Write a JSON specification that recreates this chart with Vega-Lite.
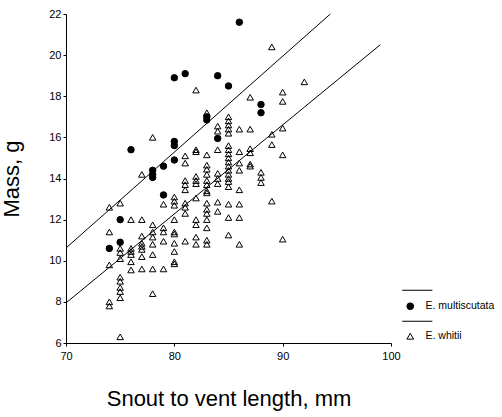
{
  "$schema": "https://vega.github.io/schema/vega-lite/v6.json",
  "width": 325,
  "height": 329,
  "autosize": {"type": "none"},
  "padding": {"left": 66, "top": 14, "right": 111, "bottom": 74},
  "background": "white",
  "config": {
    "view": {"stroke": null},
    "font": "Liberation Sans",
    "axis": {
      "domainColor": "black", "domainWidth": 1, "tickColor": "black", "tickSize": 3, "tickWidth": 1,
      "labelColor": "black", "titleColor": "black", "labelFont": "Liberation Sans", "titleFont": "Liberation Sans",
      "labelFontSize": 11, "titleFontSize": 22, "titleFontWeight": "normal", "grid": false,
      "labelFlush": false, "labelOverlap": false
    },
    "legend": {
      "orient": "none", "legendX": 339, "legendY": 271, "title": null,
      "labelFont": "Liberation Sans", "labelFontSize": 10.5, "labelColor": "black",
      "symbolStrokeColor": "black", "symbolStrokeWidth": 1, "symbolSize": 45,
      "labelOffset": 10, "rowPadding": 4
    }
  },
  "datasets": {
    "pts": [
      {"species": "E. multiscutata", "svl": 74, "mass": 10.6},
      {"species": "E. multiscutata", "svl": 75, "mass": 12.0},
      {"species": "E. multiscutata", "svl": 75, "mass": 10.9},
      {"species": "E. multiscutata", "svl": 76, "mass": 15.4},
      {"species": "E. multiscutata", "svl": 78, "mass": 14.4},
      {"species": "E. multiscutata", "svl": 78, "mass": 14.2},
      {"species": "E. multiscutata", "svl": 78, "mass": 14.05},
      {"species": "E. multiscutata", "svl": 79, "mass": 14.6},
      {"species": "E. multiscutata", "svl": 79, "mass": 13.2},
      {"species": "E. multiscutata", "svl": 80, "mass": 18.9},
      {"species": "E. multiscutata", "svl": 80, "mass": 15.8},
      {"species": "E. multiscutata", "svl": 80, "mass": 15.6},
      {"species": "E. multiscutata", "svl": 80, "mass": 14.9},
      {"species": "E. multiscutata", "svl": 81, "mass": 19.1},
      {"species": "E. multiscutata", "svl": 83, "mass": 17.0},
      {"species": "E. multiscutata", "svl": 83, "mass": 16.85},
      {"species": "E. multiscutata", "svl": 84, "mass": 19.0},
      {"species": "E. multiscutata", "svl": 84, "mass": 15.95},
      {"species": "E. multiscutata", "svl": 85, "mass": 18.5},
      {"species": "E. multiscutata", "svl": 86, "mass": 21.6},
      {"species": "E. multiscutata", "svl": 88, "mass": 17.6},
      {"species": "E. multiscutata", "svl": 88, "mass": 17.2},
      {"species": "E. whitii", "svl": 74, "mass": 12.6},
      {"species": "E. whitii", "svl": 74, "mass": 11.4},
      {"species": "E. whitii", "svl": 74, "mass": 9.8},
      {"species": "E. whitii", "svl": 74, "mass": 8.0},
      {"species": "E. whitii", "svl": 74, "mass": 7.8},
      {"species": "E. whitii", "svl": 75, "mass": 12.8},
      {"species": "E. whitii", "svl": 75, "mass": 10.6},
      {"species": "E. whitii", "svl": 75, "mass": 10.4},
      {"species": "E. whitii", "svl": 75, "mass": 10.1},
      {"species": "E. whitii", "svl": 75, "mass": 9.2},
      {"species": "E. whitii", "svl": 75, "mass": 9.0},
      {"species": "E. whitii", "svl": 75, "mass": 8.7},
      {"species": "E. whitii", "svl": 75, "mass": 8.5},
      {"species": "E. whitii", "svl": 75, "mass": 8.2},
      {"species": "E. whitii", "svl": 75, "mass": 6.3},
      {"species": "E. whitii", "svl": 76, "mass": 12.0},
      {"species": "E. whitii", "svl": 76, "mass": 10.6},
      {"species": "E. whitii", "svl": 76, "mass": 10.45},
      {"species": "E. whitii", "svl": 76, "mass": 10.3},
      {"species": "E. whitii", "svl": 76, "mass": 9.95},
      {"species": "E. whitii", "svl": 76, "mass": 9.55},
      {"species": "E. whitii", "svl": 77, "mass": 14.2},
      {"species": "E. whitii", "svl": 77, "mass": 12.0},
      {"species": "E. whitii", "svl": 77, "mass": 11.2},
      {"species": "E. whitii", "svl": 77, "mass": 10.85},
      {"species": "E. whitii", "svl": 77, "mass": 10.7},
      {"species": "E. whitii", "svl": 77, "mass": 10.55},
      {"species": "E. whitii", "svl": 77, "mass": 10.2},
      {"species": "E. whitii", "svl": 77, "mass": 9.6},
      {"species": "E. whitii", "svl": 78, "mass": 16.0},
      {"species": "E. whitii", "svl": 78, "mass": 11.75},
      {"species": "E. whitii", "svl": 78, "mass": 11.4},
      {"species": "E. whitii", "svl": 78, "mass": 11.15},
      {"species": "E. whitii", "svl": 78, "mass": 10.8},
      {"species": "E. whitii", "svl": 78, "mass": 10.3},
      {"species": "E. whitii", "svl": 78, "mass": 9.6},
      {"species": "E. whitii", "svl": 78, "mass": 8.4},
      {"species": "E. whitii", "svl": 79, "mass": 12.75},
      {"species": "E. whitii", "svl": 79, "mass": 11.6},
      {"species": "E. whitii", "svl": 79, "mass": 11.4},
      {"species": "E. whitii", "svl": 79, "mass": 10.95},
      {"species": "E. whitii", "svl": 79, "mass": 9.6},
      {"species": "E. whitii", "svl": 80, "mass": 13.1},
      {"species": "E. whitii", "svl": 80, "mass": 12.9},
      {"species": "E. whitii", "svl": 80, "mass": 12.7},
      {"species": "E. whitii", "svl": 80, "mass": 12.0},
      {"species": "E. whitii", "svl": 80, "mass": 11.4},
      {"species": "E. whitii", "svl": 80, "mass": 11.3},
      {"species": "E. whitii", "svl": 80, "mass": 10.85},
      {"species": "E. whitii", "svl": 80, "mass": 10.45},
      {"species": "E. whitii", "svl": 80, "mass": 9.95},
      {"species": "E. whitii", "svl": 80, "mass": 9.85},
      {"species": "E. whitii", "svl": 81, "mass": 15.1},
      {"species": "E. whitii", "svl": 81, "mass": 14.75},
      {"species": "E. whitii", "svl": 81, "mass": 13.9},
      {"species": "E. whitii", "svl": 81, "mass": 13.7},
      {"species": "E. whitii", "svl": 81, "mass": 13.45},
      {"species": "E. whitii", "svl": 81, "mass": 12.8},
      {"species": "E. whitii", "svl": 81, "mass": 12.6},
      {"species": "E. whitii", "svl": 81, "mass": 12.3},
      {"species": "E. whitii", "svl": 81, "mass": 10.95},
      {"species": "E. whitii", "svl": 82, "mass": 18.3},
      {"species": "E. whitii", "svl": 82, "mass": 15.4},
      {"species": "E. whitii", "svl": 82, "mass": 15.3},
      {"species": "E. whitii", "svl": 82, "mass": 14.1},
      {"species": "E. whitii", "svl": 82, "mass": 13.9},
      {"species": "E. whitii", "svl": 82, "mass": 13.75},
      {"species": "E. whitii", "svl": 82, "mass": 13.05},
      {"species": "E. whitii", "svl": 82, "mass": 12.0},
      {"species": "E. whitii", "svl": 82, "mass": 11.75},
      {"species": "E. whitii", "svl": 82, "mass": 11.15},
      {"species": "E. whitii", "svl": 82, "mass": 10.8},
      {"species": "E. whitii", "svl": 83, "mass": 17.2},
      {"species": "E. whitii", "svl": 83, "mass": 15.15},
      {"species": "E. whitii", "svl": 83, "mass": 14.65},
      {"species": "E. whitii", "svl": 83, "mass": 14.45},
      {"species": "E. whitii", "svl": 83, "mass": 14.2},
      {"species": "E. whitii", "svl": 83, "mass": 13.9},
      {"species": "E. whitii", "svl": 83, "mass": 13.7},
      {"species": "E. whitii", "svl": 83, "mass": 13.4},
      {"species": "E. whitii", "svl": 83, "mass": 13.3},
      {"species": "E. whitii", "svl": 83, "mass": 12.8},
      {"species": "E. whitii", "svl": 83, "mass": 12.5},
      {"species": "E. whitii", "svl": 83, "mass": 12.3},
      {"species": "E. whitii", "svl": 83, "mass": 12.0},
      {"species": "E. whitii", "svl": 83, "mass": 11.6},
      {"species": "E. whitii", "svl": 83, "mass": 11.0},
      {"species": "E. whitii", "svl": 83, "mass": 10.8},
      {"species": "E. whitii", "svl": 84, "mass": 16.55},
      {"species": "E. whitii", "svl": 84, "mass": 16.3},
      {"species": "E. whitii", "svl": 84, "mass": 15.4},
      {"species": "E. whitii", "svl": 84, "mass": 14.25},
      {"species": "E. whitii", "svl": 84, "mass": 14.0},
      {"species": "E. whitii", "svl": 84, "mass": 13.75},
      {"species": "E. whitii", "svl": 84, "mass": 12.85},
      {"species": "E. whitii", "svl": 84, "mass": 12.4},
      {"species": "E. whitii", "svl": 85, "mass": 17.0},
      {"species": "E. whitii", "svl": 85, "mass": 16.8},
      {"species": "E. whitii", "svl": 85, "mass": 16.6},
      {"species": "E. whitii", "svl": 85, "mass": 16.4},
      {"species": "E. whitii", "svl": 85, "mass": 16.2},
      {"species": "E. whitii", "svl": 85, "mass": 15.6},
      {"species": "E. whitii", "svl": 85, "mass": 15.4},
      {"species": "E. whitii", "svl": 85, "mass": 15.2},
      {"species": "E. whitii", "svl": 85, "mass": 15.0},
      {"species": "E. whitii", "svl": 85, "mass": 14.8},
      {"species": "E. whitii", "svl": 85, "mass": 14.6},
      {"species": "E. whitii", "svl": 85, "mass": 14.4},
      {"species": "E. whitii", "svl": 85, "mass": 14.2},
      {"species": "E. whitii", "svl": 85, "mass": 14.0},
      {"species": "E. whitii", "svl": 85, "mass": 13.85},
      {"species": "E. whitii", "svl": 85, "mass": 13.6},
      {"species": "E. whitii", "svl": 85, "mass": 12.75},
      {"species": "E. whitii", "svl": 85, "mass": 12.1},
      {"species": "E. whitii", "svl": 85, "mass": 11.25},
      {"species": "E. whitii", "svl": 86, "mass": 16.4},
      {"species": "E. whitii", "svl": 86, "mass": 15.3},
      {"species": "E. whitii", "svl": 86, "mass": 14.75},
      {"species": "E. whitii", "svl": 86, "mass": 14.4},
      {"species": "E. whitii", "svl": 86, "mass": 13.45},
      {"species": "E. whitii", "svl": 86, "mass": 12.75},
      {"species": "E. whitii", "svl": 86, "mass": 12.1},
      {"species": "E. whitii", "svl": 86, "mass": 10.8},
      {"species": "E. whitii", "svl": 87, "mass": 17.95},
      {"species": "E. whitii", "svl": 87, "mass": 16.4},
      {"species": "E. whitii", "svl": 87, "mass": 15.45},
      {"species": "E. whitii", "svl": 87, "mass": 15.25},
      {"species": "E. whitii", "svl": 87, "mass": 14.7},
      {"species": "E. whitii", "svl": 87, "mass": 14.6},
      {"species": "E. whitii", "svl": 88, "mass": 14.3},
      {"species": "E. whitii", "svl": 88, "mass": 14.05},
      {"species": "E. whitii", "svl": 88, "mass": 13.8},
      {"species": "E. whitii", "svl": 89, "mass": 20.4},
      {"species": "E. whitii", "svl": 89, "mass": 16.15},
      {"species": "E. whitii", "svl": 89, "mass": 15.65},
      {"species": "E. whitii", "svl": 89, "mass": 12.9},
      {"species": "E. whitii", "svl": 90, "mass": 18.2},
      {"species": "E. whitii", "svl": 90, "mass": 17.75},
      {"species": "E. whitii", "svl": 90, "mass": 16.45},
      {"species": "E. whitii", "svl": 90, "mass": 15.15},
      {"species": "E. whitii", "svl": 90, "mass": 11.05},
      {"species": "E. whitii", "svl": 92, "mass": 18.7}
    ],
    "fits": [
      {"species": "E. multiscutata", "svl": 70, "mass": 10.62},
      {"species": "E. multiscutata", "svl": 94.4, "mass": 22.0},
      {"species": "E. whitii", "svl": 70, "mass": 7.95},
      {"species": "E. whitii", "svl": 99, "mass": 20.5}
    ]
  },
  "layer": [
    {
      "data": {"name": "pts"},
      "mark": {"type": "point", "size": 42, "strokeWidth": 1, "opacity": 1},
      "encoding": {
        "x": {"field": "svl", "type": "quantitative",
              "scale": {"domain": [70, 100], "nice": false, "zero": false},
              "axis": {"values": [70, 80, 90, 100], "title": "Snout to vent length, mm", "labelPadding": 4, "titlePadding": 27}},
        "y": {"field": "mass", "type": "quantitative",
              "scale": {"domain": [6, 22], "nice": false, "zero": false},
              "axis": {"values": [6, 8, 10, 12, 14, 16, 18, 20, 22], "title": "Mass, g", "labelPadding": 2, "titlePadding": 25}},
        "shape": {"field": "species", "type": "nominal",
                  "scale": {"domain": ["l1", "E. multiscutata", "l2", "E. whitii"],
                            "range": ["M-2.4,0L6.6,0", "circle", "M-2.4,0L6.6,0", "triangle-up"]},
                  "legend": {"labelExpr": "datum.label == 'l1' || datum.label == 'l2' ? '' : datum.label"}},
        "fill": {"field": "species", "type": "nominal",
                 "scale": {"domain": ["l1", "E. multiscutata", "l2", "E. whitii"],
                           "range": ["black", "black", "black", "transparent"]},
                 "legend": {"labelExpr": "datum.label == 'l1' || datum.label == 'l2' ? '' : datum.label"}},
        "stroke": {"field": "species", "type": "nominal",
                   "scale": {"domain": ["l1", "E. multiscutata", "l2", "E. whitii"],
                             "range": ["black", "black", "black", "black"]},
                   "legend": {"labelExpr": "datum.label == 'l1' || datum.label == 'l2' ? '' : datum.label"}}
      }
    },
    {
      "data": {"name": "fits"},
      "mark": {"type": "line", "color": "black", "strokeWidth": 1},
      "encoding": {
        "x": {"field": "svl", "type": "quantitative"},
        "y": {"field": "mass", "type": "quantitative"},
        "detail": {"field": "species", "type": "nominal"}
      }
    }
  ]
}
